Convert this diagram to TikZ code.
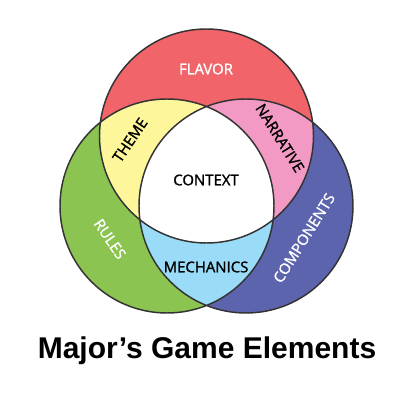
\documentclass[tikz,border=0pt]{standalone}
\usepackage{fontspec}
\setmainfont{Open Sans}
\newfontfamily\labelfont{Open Sans}[FakeBold=1.3]
\newfontfamily\titlefont{Liberation Sans}
\usetikzlibrary{positioning}
\definecolor{flavorred}{RGB}{240,100,106}
\definecolor{rulesgreen}{RGB}{139,196,80}
\definecolor{compblue}{RGB}{93,100,174}
\definecolor{themeyellow}{RGB}{254,246,155}
\definecolor{narrpink}{RGB}{242,154,196}
\definecolor{mechblue}{RGB}{154,220,248}
\definecolor{ringgray}{RGB}{51,51,51}

\begin{document}
\begin{tikzpicture}[
  x=0.75pt, y=-0.75pt,
  ring/.style={draw=ringgray, line width=1.1pt},
  inlabel/.style={font=\labelfont\fontsize{11.2}{13}\selectfont, text=black, inner sep=1pt},
  outlabel/.style={font=\labelfont\fontsize{11.2}{13}\selectfont, text=white, inner sep=1pt},
]
\def\rr{80.25pt}
\useasboundingbox (0,0) rectangle (419,414);

\coordinate (top) at (206.5,136);
\coordinate (left) at (167,206);
\coordinate (right) at (246,206);

% circles
\fill[flavorred] (top) circle (\rr);
\fill[rulesgreen] (left) circle (\rr);
\fill[compblue] (right) circle (\rr);
% overlaps
\begin{scope}
  \clip (top) circle (\rr);
  \fill[themeyellow] (left) circle (\rr);
  \fill[narrpink] (right) circle (\rr);
\end{scope}
\begin{scope}
  \clip (left) circle (\rr);
  \fill[mechblue] (right) circle (\rr);
\end{scope}
\begin{scope}
  \clip (top) circle (\rr);
  \clip (left) circle (\rr);
  \fill[white] (right) circle (\rr);
\end{scope}
\draw[ring] (top) circle (\rr) (left) circle (\rr) (right) circle (\rr);

\node[outlabel] (flavor) at (206,69) {FLAVOR};
\node[outlabel, rotate=-56] (rules) at (110,239) {RULES};
\node[outlabel, rotate=58] (components) at (304,238) {COMPONENTS};
\node[inlabel, rotate=56] (theme) at (130,140) {THEME};
\node[inlabel, rotate=-58] (narrative) at (280,138) {NARRATIVE};
\node[inlabel] (context) at (206,180) {CONTEXT};
\node[inlabel] (mechanics) at (206,267) {MECHANICS};

\node[font=\titlefont\bfseries\fontsize{22.5}{26}\selectfont] (title) at (207,351) {Major’s Game Elements};
\end{tikzpicture}
\end{document}
